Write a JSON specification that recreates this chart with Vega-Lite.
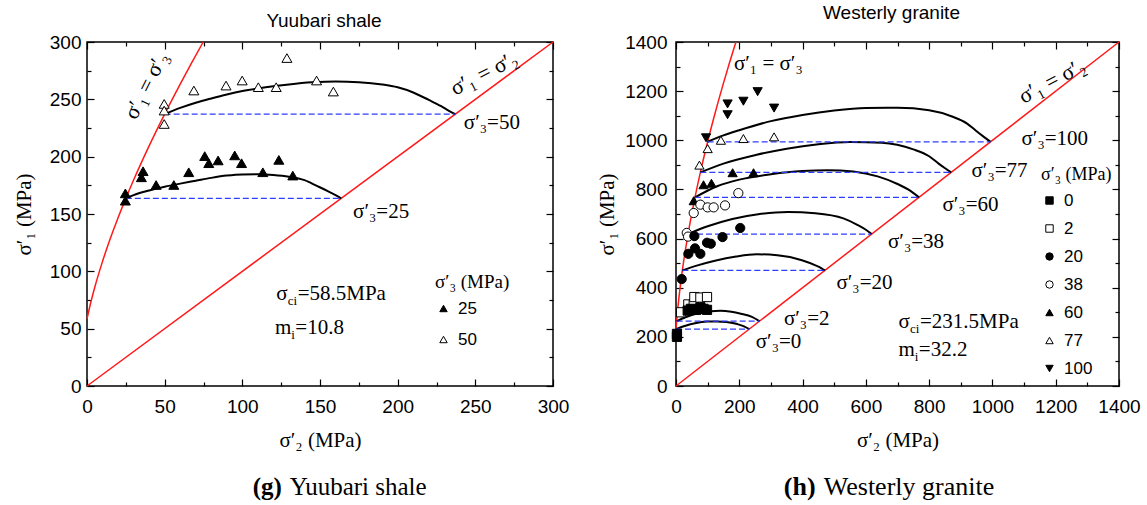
{
"$schema": "https://vega.github.io/schema/vega-lite/v6.json",
"background": "white",
"padding": {"left": 12, "top": 3, "right": 5, "bottom": 3},
"spacing": 25,
"config": {
  "view": {"stroke": "black", "strokeWidth": 1.5},
  "axis": {"grid": false, "domain": false, "labelOverlap": false, "labelFlush": false, "labelColor": "black", "titleColor": "black", "tickColor": "black", "format": "d"},
  "title": {"color": "black", "font": "Liberation Sans", "fontSize": 19, "fontWeight": "normal"}
},
"resolve": {"scale": {"shape": "independent", "fill": "independent", "stroke": "independent"}},
"datasets": {
  "diag_left": [{"x": 0, "y": 0}, {"x": 300, "y": 300}],
  "hb_left": [{"x":0,"y":58.5},{"x":2,"y":70.45},{"x":5,"y":86.12},{"x":10,"y":108.69},{"x":15,"y":128.57},{"x":20,"y":146.72},{"x":25,"y":163.63},{"x":30,"y":179.59},{"x":40,"y":209.39},{"x":50,"y":237.11},{"x":60,"y":263.3},{"x":67,"y":280.9},{"x":74.8,"y":300}],
  "curves_left": [
    {"c":"25","x":25,"y":163.6},{"c":"25","x":30,"y":166.5},{"c":"25","x":40,"y":170.5},{"c":"25","x":50,"y":173.8},{"c":"25","x":60,"y":176.5},{"c":"25","x":70,"y":179},{"c":"25","x":80,"y":181.5},{"c":"25","x":90,"y":183.5},{"c":"25","x":100,"y":184.5},{"c":"25","x":110,"y":184.6},{"c":"25","x":120,"y":184},{"c":"25","x":130,"y":182.5},{"c":"25","x":140,"y":179.5},{"c":"25","x":148,"y":174.5},{"c":"25","x":155,"y":170},{"c":"25","x":160,"y":166.5},{"c":"25","x":163.6,"y":163.6},
    {"c":"50","x":50,"y":237.1},{"c":"50","x":60,"y":242.5},{"c":"50","x":70,"y":247},{"c":"50","x":80,"y":250.8},{"c":"50","x":90,"y":254.3},{"c":"50","x":100,"y":257.3},{"c":"50","x":115,"y":260.5},{"c":"50","x":130,"y":263},{"c":"50","x":145,"y":264.8},{"c":"50","x":160,"y":265.6},{"c":"50","x":175,"y":265},{"c":"50","x":190,"y":263},{"c":"50","x":200,"y":260.5},{"c":"50","x":210,"y":256},{"c":"50","x":220,"y":249.5},{"c":"50","x":228,"y":244},{"c":"50","x":233,"y":240},{"c":"50","x":237.1,"y":237.1}
  ],
  "dash_left": [{"x1":25,"x2":163.6,"y":163.6},{"x1":50,"x2":237.1,"y":237.1}],
  "pts_left": [
    {"s3":"25","x":24.7,"y":168},{"s3":"25","x":24.7,"y":161.6},{"s3":"25","x":36.1,"y":187.3},{"s3":"25","x":35,"y":182},{"s3":"25","x":44.5,"y":175.3},{"s3":"25","x":55.9,"y":175.3},{"s3":"25","x":65.5,"y":186.4},{"s3":"25","x":75.8,"y":200.5},{"s3":"25","x":78.4,"y":194.3},{"s3":"25","x":84.4,"y":196.7},{"s3":"25","x":95.1,"y":201.1},{"s3":"25","x":99.5,"y":194.3},{"s3":"25","x":113.2,"y":186.4},{"s3":"25","x":123.5,"y":197.2},{"s3":"25","x":132.5,"y":183.5},
    {"s3":"50","x":49.7,"y":246},{"s3":"50","x":49.7,"y":240.2},{"s3":"50","x":49.7,"y":228.5},{"s3":"50","x":68.8,"y":257.7},{"s3":"50","x":89.5,"y":262},{"s3":"50","x":99.9,"y":266.4},{"s3":"50","x":110.3,"y":260.6},{"s3":"50","x":121.8,"y":260.6},{"s3":"50","x":128.7,"y":286},{"s3":"50","x":147.8,"y":266.4},{"s3":"50","x":158.6,"y":256.8}
  ],
  "texts_left": [{"x":171.3,"y":151.7,"t":"σ′₃=25"},{"x":242.6,"y":229,"t":"σ′₃=50"},{"x":121.8,"y":80.3,"t":"σ"},{"x":135.6,"y":80.3,"t":"=58.5MPa"},{"x":121,"y":50.6,"t":"m"},{"x":134.1,"y":50.6,"t":"=10.8"}],
  "subs_left": [{"x":129.3,"y":80.3,"t":"ci"},{"x":131.5,"y":50.6,"t":"i"}],
  "rot1_left": [{"x":38,"y":262,"t":"σ′₁ = σ′₃"}],
  "rot2_left": [{"x":255.6,"y":272.8,"t":"σ′₁ = σ′₂"}],
  "capb_left": [{"x":125.4,"y":0,"t":"(g)"}],
  "capn_left": [{"x":130.6,"y":0,"t":"Yuubari shale"}],
  "diag_right": [{"x": 0, "y": 0}, {"x": 1400, "y": 1400}],
  "hb_right": [{"x":0,"y":231.5},{"x":2,"y":263.73},{"x":5,"y":306.44},{"x":10,"y":367.96},{"x":15,"y":421.7},{"x":20,"y":470.2},{"x":30,"y":556.5},{"x":38,"y":618.4},{"x":50,"y":702.9},{"x":60,"y":767.7},{"x":77,"y":869.2},{"x":100,"y":993.9},{"x":120,"y":1093.7},{"x":150,"y":1232.5},{"x":170,"y":1319.3},{"x":189.4,"y":1400}],
  "curves_right": [
    {"c":"0","x":0,"y":231.5},{"c":"0","x":30,"y":245},{"c":"0","x":60,"y":255},{"c":"0","x":100,"y":262},{"c":"0","x":130,"y":263},{"c":"0","x":160,"y":260},{"c":"0","x":194,"y":252},{"c":"0","x":215,"y":243},{"c":"0","x":231.5,"y":231.5},
    {"c":"2","x":2,"y":263.7},{"c":"2","x":30,"y":280},{"c":"2","x":70,"y":296},{"c":"2","x":110,"y":304},{"c":"2","x":140,"y":306},{"c":"2","x":175,"y":302},{"c":"2","x":205,"y":294},{"c":"2","x":240,"y":281},{"c":"2","x":263.7,"y":263.7},
    {"c":"20","x":20,"y":470.2},{"c":"20","x":60,"y":488},{"c":"20","x":123,"y":510},{"c":"20","x":190,"y":527},{"c":"20","x":255,"y":536},{"c":"20","x":320,"y":532},{"c":"20","x":398,"y":512},{"c":"20","x":441,"y":491},{"c":"20","x":460,"y":479},{"c":"20","x":470.2,"y":470.2},
    {"c":"38","x":38,"y":618.4},{"c":"38","x":100,"y":650},{"c":"38","x":178,"y":680},{"c":"38","x":260,"y":699},{"c":"38","x":354,"y":708},{"c":"38","x":440,"y":703},{"c":"38","x":529,"y":682},{"c":"38","x":573,"y":656},{"c":"38","x":600,"y":636},{"c":"38","x":618.4,"y":618.4},
    {"c":"60","x":60,"y":767.7},{"c":"60","x":130,"y":813},{"c":"60","x":200,"y":840},{"c":"60","x":300,"y":862},{"c":"60","x":400,"y":875},{"c":"60","x":480,"y":878},{"c":"60","x":560,"y":873},{"c":"60","x":640,"y":852},{"c":"60","x":700,"y":822},{"c":"60","x":740,"y":795},{"c":"60","x":767.7,"y":767.7},
    {"c":"77","x":77,"y":869.2},{"c":"77","x":150,"y":905},{"c":"77","x":255,"y":941},{"c":"77","x":350,"y":966},{"c":"77","x":450,"y":984},{"c":"77","x":550,"y":993},{"c":"77","x":650,"y":990},{"c":"77","x":750,"y":963},{"c":"77","x":800,"y":935},{"c":"77","x":830,"y":905},{"c":"77","x":855,"y":882},{"c":"77","x":869.2,"y":869.2},
    {"c":"100","x":100,"y":994},{"c":"100","x":150,"y":1020},{"c":"100","x":200,"y":1041},{"c":"100","x":300,"y":1078},{"c":"100","x":400,"y":1103},{"c":"100","x":500,"y":1121},{"c":"100","x":600,"y":1131},{"c":"100","x":700,"y":1132},{"c":"100","x":800,"y":1122},{"c":"100","x":870,"y":1098},{"c":"100","x":920,"y":1068},{"c":"100","x":947,"y":1040},{"c":"100","x":975,"y":1012},{"c":"100","x":993.9,"y":993.9}
  ],
  "dash_right": [{"x1":0,"x2":231.5,"y":231.5},{"x1":2,"x2":263.7,"y":263.7},{"x1":20,"x2":470.2,"y":470.2},{"x1":38,"x2":618.4,"y":618.4},{"x1":60,"x2":767.7,"y":767.7},{"x1":77,"x2":869.2,"y":869.2},{"x1":100,"x2":993.9,"y":993.9}],
  "pts_right": [
    {"s3":"100","x":95,"y":1010},{"s3":"100","x":163,"y":1148},{"s3":"100","x":163,"y":1104},{"s3":"100","x":213,"y":1159},{"s3":"100","x":258,"y":1198},{"s3":"100","x":310,"y":1131},
    {"s3":"77","x":74,"y":899},{"s3":"77","x":100,"y":966},{"s3":"77","x":142,"y":1000},{"s3":"77","x":213,"y":1007},{"s3":"77","x":310,"y":1014},
    {"s3":"60","x":56,"y":754},{"s3":"60","x":87,"y":819},{"s3":"60","x":112,"y":825},{"s3":"60","x":179,"y":868},{"s3":"60","x":245,"y":868},
    {"s3":"38","x":197,"y":785},{"s3":"38","x":56,"y":704},{"s3":"38","x":77,"y":738},{"s3":"38","x":100,"y":727},{"s3":"38","x":119,"y":727},{"s3":"38","x":155,"y":735},{"s3":"38","x":34,"y":623},{"s3":"38","x":38,"y":608},
    {"s3":"20","x":203,"y":643},{"s3":"20","x":147,"y":606},{"s3":"20","x":58,"y":610},{"s3":"20","x":98,"y":583},{"s3":"20","x":110,"y":579},{"s3":"20","x":39,"y":538},{"s3":"20","x":60,"y":560},{"s3":"20","x":77,"y":538},{"s3":"20","x":18,"y":435},
    {"s3":"2","x":16,"y":300},{"s3":"2","x":39,"y":332},{"s3":"2","x":56,"y":333},{"s3":"2","x":58,"y":362},{"s3":"2","x":77,"y":360},{"s3":"2","x":98,"y":362},
    {"s3":"0","x":37,"y":307},{"s3":"0","x":47,"y":314},{"s3":"0","x":52,"y":310},{"s3":"0","x":64,"y":310},{"s3":"0","x":77,"y":320},{"s3":"0","x":87,"y":314},{"s3":"0","x":98,"y":310},{"s3":"0","x":3,"y":200},{"s3":"0","x":3,"y":212}
  ],
  "texts_right": [{"x":183,"y":1309,"t":"σ′₁ = σ′₃"},{"x":1092,"y":1005,"t":"σ′₃=100"},{"x":934,"y":874,"t":"σ′₃=77"},{"x":842,"y":738,"t":"σ′₃=60"},{"x":670,"y":587,"t":"σ′₃=38"},{"x":507,"y":420,"t":"σ′₃=20"},{"x":341,"y":272,"t":"σ′₃=2"},{"x":252,"y":181,"t":"σ′₃=0"},{"x":703,"y":262,"t":"σ"},{"x":770.9,"y":262,"t":"=231.5MPa"},{"x":703,"y":148,"t":"m"},{"x":767.4,"y":148,"t":"=32.2"}],
  "subs_right": [{"x":739.6,"y":262,"t":"ci"},{"x":754.5,"y":148,"t":"i"}],
  "rot_right": [{"x":1188,"y":1242,"t":"σ′₁ = σ′₂"}],
  "capb_right": [{"x":441,"y":0,"t":"(h)"}],
  "capn_right": [{"x":467,"y":0,"t":"Westerly granite"}]
},
"hconcat": [
{
  "width": 466, "height": 344,
  "title": {"text": "Yuubari shale", "offset": 2, "dx": 4, "anchor": "middle"},
  "resolve": {"axis": {"x": "independent", "y": "independent"}},
  "layer": [
    {"data": {"name": "diag_left"}, "mark": {"type": "line", "color": "#ff1a1a", "strokeWidth": 1.5},
     "encoding": {
       "x": {"field": "x", "type": "quantitative", "scale": {"domain": [0, 300], "nice": false}, "axis": {"orient": "bottom", "values": [0,50,100,150,200,250,300], "ticks": false, "labelPadding": 11, "labelFont": "Liberation Sans", "labelFontSize": 19, "title": "σ′₂  (MPa)", "titleFont": "Liberation Serif", "titleFontSize": 21, "titleFontWeight": "normal", "titlePadding": 13}},
       "y": {"field": "y", "type": "quantitative", "scale": {"domain": [0, 300], "nice": false}, "axis": {"orient": "left", "values": [0,50,100,150,200,250,300], "ticks": false, "labelPadding": 6, "labelFont": "Liberation Sans", "labelFontSize": 19, "title": "σ′₁   (MPa)", "titleFont": "Liberation Serif", "titleFontSize": 21, "titleFontWeight": "normal", "titlePadding": 15}}
     }},
    {"data": {"name": "hb_left"}, "mark": {"type": "line", "color": "#ff1a1a", "strokeWidth": 1.5, "interpolate": "monotone"},
     "encoding": {
       "x": {"field": "x", "type": "quantitative", "scale": {"domain": [0, 300], "nice": false}, "axis": {"orient": "bottom", "values": [0,50,100,150,200,250,300], "labels": false, "ticks": true, "tickSize": -7, "tickWidth": 1.2, "title": null}},
       "y": {"field": "y", "type": "quantitative", "scale": {"domain": [0, 300], "nice": false}, "axis": {"orient": "left", "values": [0,50,100,150,200,250,300], "labels": false, "ticks": true, "tickSize": -7, "tickWidth": 1.2, "title": null}}
     }},
    {"data": {"name": "curves_left"}, "mark": {"type": "line", "color": "black", "strokeWidth": 2, "interpolate": "monotone"},
     "encoding": {
       "detail": {"field": "c"},
       "x": {"field": "x", "type": "quantitative", "scale": {"domain": [0, 300], "nice": false}, "axis": {"orient": "bottom", "values": [25,75,125,175,225,275], "labels": false, "ticks": true, "tickSize": -4, "tickWidth": 1.2, "title": null}},
       "y": {"field": "y", "type": "quantitative", "scale": {"domain": [0, 300], "nice": false}, "axis": {"orient": "left", "values": [25,75,125,175,225,275], "labels": false, "ticks": true, "tickSize": -4, "tickWidth": 1.2, "title": null}}
     }},
    {"data": {"name": "dash_left"}, "mark": {"type": "rule", "color": "#2f3dff", "strokeWidth": 1.3, "strokeDash": [6, 3]},
     "encoding": {
       "x": {"field": "x1", "type": "quantitative", "scale": {"domain": [0, 300], "nice": false}, "axis": {"orient": "top", "values": [0,50,100,150,200,250,300], "labels": false, "ticks": true, "tickSize": -7, "tickWidth": 1.2, "title": null}},
       "x2": {"field": "x2"},
       "y": {"field": "y", "type": "quantitative", "scale": {"domain": [0, 300], "nice": false}, "axis": {"orient": "right", "values": [0,50,100,150,200,250,300], "labels": false, "ticks": true, "tickSize": -7, "tickWidth": 1.2, "title": null}}
     }},
    {"data": {"name": "pts_left"}, "mark": {"type": "point", "filled": true, "size": 100, "strokeWidth": 1, "opacity": 1},
     "encoding": {
       "x": {"field": "x", "type": "quantitative", "scale": {"domain": [0, 300], "nice": false}, "axis": {"orient": "top", "values": [25,75,125,175,225,275], "labels": false, "ticks": true, "tickSize": -4, "tickWidth": 1.2, "title": null}},
       "y": {"field": "y", "type": "quantitative", "scale": {"domain": [0, 300], "nice": false}, "axis": {"orient": "right", "values": [25,75,125,175,225,275], "labels": false, "ticks": true, "tickSize": -4, "tickWidth": 1.2, "title": null}},
       "shape": {"field": "s3", "type": "nominal", "scale": {"domain": ["25", "50"], "range": ["triangle-up", "triangle-up"]},
         "legend": {"title": "σ′₃ (MPa)", "orient": "none", "legendX": 348, "legendY": 231, "padding": 0, "titleFont": "Liberation Serif", "titleFontSize": 19, "titleFontWeight": "normal", "titleColor": "black", "titlePadding": 8, "labelFont": "Liberation Sans", "labelFontSize": 17, "labelColor": "black", "labelOffset": 6, "symbolSize": 55, "symbolStrokeWidth": 1, "rowPadding": 13}},
       "fill": {"field": "s3", "type": "nominal", "scale": {"domain": ["25", "50"], "range": ["black", "white"]},
         "legend": {"title": "σ′₃ (MPa)", "orient": "none", "legendX": 348, "legendY": 231, "padding": 0, "titleFont": "Liberation Serif", "titleFontSize": 19, "titleFontWeight": "normal", "titleColor": "black", "titlePadding": 8, "labelFont": "Liberation Sans", "labelFontSize": 17, "labelColor": "black", "labelOffset": 6, "symbolSize": 55, "symbolStrokeWidth": 1, "rowPadding": 13}},
       "stroke": {"field": "s3", "type": "nominal", "scale": {"domain": ["25", "50"], "range": ["black", "black"]},
         "legend": {"title": "σ′₃ (MPa)", "orient": "none", "legendX": 348, "legendY": 231, "padding": 0, "titleFont": "Liberation Serif", "titleFontSize": 19, "titleFontWeight": "normal", "titleColor": "black", "titlePadding": 8, "labelFont": "Liberation Sans", "labelFontSize": 17, "labelColor": "black", "labelOffset": 6, "symbolSize": 55, "symbolStrokeWidth": 1, "rowPadding": 13}}
     }},
    {"data": {"name": "texts_left"}, "mark": {"type": "text", "align": "left", "baseline": "middle", "font": "Liberation Serif", "fontSize": 21, "color": "black"},
     "encoding": {"x": {"field": "x", "type": "quantitative", "axis": null}, "y": {"field": "y", "type": "quantitative", "axis": null}, "text": {"field": "t"}}},
    {"data": {"name": "subs_left"}, "mark": {"type": "text", "align": "left", "baseline": "middle", "font": "Liberation Serif", "fontSize": 13, "dy": 7, "color": "black"},
     "encoding": {"x": {"field": "x", "type": "quantitative", "axis": null}, "y": {"field": "y", "type": "quantitative", "axis": null}, "text": {"field": "t"}}},
    {"data": {"name": "rot1_left"}, "mark": {"type": "text", "align": "center", "baseline": "middle", "font": "Liberation Serif", "fontSize": 22, "angle": -63, "color": "black"},
     "encoding": {"x": {"field": "x", "type": "quantitative", "axis": null}, "y": {"field": "y", "type": "quantitative", "axis": null}, "text": {"field": "t"}}},
    {"data": {"name": "rot2_left"}, "mark": {"type": "text", "align": "center", "baseline": "middle", "font": "Liberation Serif", "fontSize": 22, "angle": -27, "color": "black"},
     "encoding": {"x": {"field": "x", "type": "quantitative", "axis": null}, "y": {"field": "y", "type": "quantitative", "axis": null}, "text": {"field": "t"}}},
    {"data": {"name": "capb_left"}, "mark": {"type": "text", "align": "right", "baseline": "middle", "font": "Liberation Serif", "fontSize": 25, "fontWeight": "bold", "dy": 101, "color": "black"},
     "encoding": {"x": {"field": "x", "type": "quantitative", "axis": null}, "y": {"field": "y", "type": "quantitative", "axis": null}, "text": {"field": "t"}}},
    {"data": {"name": "capn_left"}, "mark": {"type": "text", "align": "left", "baseline": "middle", "font": "Liberation Serif", "fontSize": 25, "dy": 101, "color": "black"},
     "encoding": {"x": {"field": "x", "type": "quantitative", "axis": null}, "y": {"field": "y", "type": "quantitative", "axis": null}, "text": {"field": "t"}}}
  ]
},
{
  "width": 443, "height": 344,
  "title": {"text": "Westerly granite", "offset": 10, "dx": -6, "anchor": "middle"},
  "resolve": {"axis": {"x": "independent", "y": "independent"}},
  "layer": [
    {"data": {"name": "diag_right"}, "mark": {"type": "line", "color": "#ff1a1a", "strokeWidth": 1.5},
     "encoding": {
       "x": {"field": "x", "type": "quantitative", "scale": {"domain": [0, 1400], "nice": false}, "axis": {"orient": "bottom", "values": [0,200,400,600,800,1000,1200,1400], "ticks": false, "labelPadding": 11, "labelFont": "Liberation Sans", "labelFontSize": 19, "title": "σ′₂  (MPa)", "titleFont": "Liberation Serif", "titleFontSize": 21, "titleFontWeight": "normal", "titlePadding": 13}},
       "y": {"field": "y", "type": "quantitative", "scale": {"domain": [0, 1400], "nice": false}, "axis": {"orient": "left", "values": [0,200,400,600,800,1000,1200,1400], "ticks": false, "labelPadding": 9, "labelFont": "Liberation Sans", "labelFontSize": 19, "title": "σ′₁   (MPa)", "titleFont": "Liberation Serif", "titleFontSize": 21, "titleFontWeight": "normal", "titlePadding": 7}}
     }},
    {"data": {"name": "hb_right"}, "mark": {"type": "line", "color": "#ff1a1a", "strokeWidth": 1.5, "interpolate": "monotone"},
     "encoding": {
       "x": {"field": "x", "type": "quantitative", "scale": {"domain": [0, 1400], "nice": false}, "axis": {"orient": "bottom", "values": [0,200,400,600,800,1000,1200,1400], "labels": false, "ticks": true, "tickSize": -7, "tickWidth": 1.2, "title": null}},
       "y": {"field": "y", "type": "quantitative", "scale": {"domain": [0, 1400], "nice": false}, "axis": {"orient": "left", "values": [0,200,400,600,800,1000,1200,1400], "labels": false, "ticks": true, "tickSize": -7, "tickWidth": 1.2, "title": null}}
     }},
    {"data": {"name": "curves_right"}, "mark": {"type": "line", "color": "black", "strokeWidth": 2, "interpolate": "monotone"},
     "encoding": {
       "detail": {"field": "c"},
       "x": {"field": "x", "type": "quantitative", "scale": {"domain": [0, 1400], "nice": false}, "axis": {"orient": "bottom", "values": [100,300,500,700,900,1100,1300], "labels": false, "ticks": true, "tickSize": -4, "tickWidth": 1.2, "title": null}},
       "y": {"field": "y", "type": "quantitative", "scale": {"domain": [0, 1400], "nice": false}, "axis": {"orient": "left", "values": [100,300,500,700,900,1100,1300], "labels": false, "ticks": true, "tickSize": -4, "tickWidth": 1.2, "title": null}}
     }},
    {"data": {"name": "dash_right"}, "mark": {"type": "rule", "color": "#2f3dff", "strokeWidth": 1.3, "strokeDash": [6, 3]},
     "encoding": {
       "x": {"field": "x1", "type": "quantitative", "scale": {"domain": [0, 1400], "nice": false}, "axis": {"orient": "top", "values": [0,200,400,600,800,1000,1200,1400], "labels": false, "ticks": true, "tickSize": -7, "tickWidth": 1.2, "title": null}},
       "x2": {"field": "x2"},
       "y": {"field": "y", "type": "quantitative", "scale": {"domain": [0, 1400], "nice": false}, "axis": {"orient": "right", "values": [0,200,400,600,800,1000,1200,1400], "labels": false, "ticks": true, "tickSize": -7, "tickWidth": 1.2, "title": null}}
     }},
    {"data": {"name": "pts_right"}, "mark": {"type": "point", "filled": true, "size": 85, "strokeWidth": 1, "opacity": 1},
     "encoding": {
       "x": {"field": "x", "type": "quantitative", "scale": {"domain": [0, 1400], "nice": false}, "axis": {"orient": "top", "values": [100,300,500,700,900,1100,1300], "labels": false, "ticks": true, "tickSize": -4, "tickWidth": 1.2, "title": null}},
       "y": {"field": "y", "type": "quantitative", "scale": {"domain": [0, 1400], "nice": false}, "axis": {"orient": "right", "values": [100,300,500,700,900,1100,1300], "labels": false, "ticks": true, "tickSize": -4, "tickWidth": 1.2, "title": null}},
       "shape": {"field": "s3", "type": "nominal", "scale": {"domain": ["0","2","20","38","60","77","100"], "range": ["square","square","circle","circle","triangle-up","triangle-up","triangle-down"]},
         "legend": {"title": "σ′₃ (MPa)", "orient": "none", "legendX": 365, "legendY": 124, "padding": 0, "titleFont": "Liberation Serif", "titleFontSize": 18, "titleFontWeight": "normal", "titleColor": "black", "titlePadding": 8, "labelFont": "Liberation Sans", "labelFontSize": 17, "labelColor": "black", "labelOffset": 6, "symbolSize": 55, "symbolStrokeWidth": 1, "rowPadding": 10}},
       "fill": {"field": "s3", "type": "nominal", "scale": {"domain": ["0","2","20","38","60","77","100"], "range": ["black","white","black","white","black","white","black"]},
         "legend": {"title": "σ′₃ (MPa)", "orient": "none", "legendX": 365, "legendY": 124, "padding": 0, "titleFont": "Liberation Serif", "titleFontSize": 18, "titleFontWeight": "normal", "titleColor": "black", "titlePadding": 8, "labelFont": "Liberation Sans", "labelFontSize": 17, "labelColor": "black", "labelOffset": 6, "symbolSize": 55, "symbolStrokeWidth": 1, "rowPadding": 10}},
       "stroke": {"field": "s3", "type": "nominal", "scale": {"domain": ["0","2","20","38","60","77","100"], "range": ["black","black","black","black","black","black","black"]},
         "legend": {"title": "σ′₃ (MPa)", "orient": "none", "legendX": 365, "legendY": 124, "padding": 0, "titleFont": "Liberation Serif", "titleFontSize": 18, "titleFontWeight": "normal", "titleColor": "black", "titlePadding": 8, "labelFont": "Liberation Sans", "labelFontSize": 17, "labelColor": "black", "labelOffset": 6, "symbolSize": 55, "symbolStrokeWidth": 1, "rowPadding": 10}}
     }},
    {"data": {"name": "texts_right"}, "mark": {"type": "text", "align": "left", "baseline": "middle", "font": "Liberation Serif", "fontSize": 21, "color": "black"},
     "encoding": {"x": {"field": "x", "type": "quantitative", "axis": null}, "y": {"field": "y", "type": "quantitative", "axis": null}, "text": {"field": "t"}}},
    {"data": {"name": "subs_right"}, "mark": {"type": "text", "align": "left", "baseline": "middle", "font": "Liberation Serif", "fontSize": 13, "dy": 7, "color": "black"},
     "encoding": {"x": {"field": "x", "type": "quantitative", "axis": null}, "y": {"field": "y", "type": "quantitative", "axis": null}, "text": {"field": "t"}}},
    {"data": {"name": "rot_right"}, "mark": {"type": "text", "align": "center", "baseline": "middle", "font": "Liberation Serif", "fontSize": 22, "angle": -28, "color": "black"},
     "encoding": {"x": {"field": "x", "type": "quantitative", "axis": null}, "y": {"field": "y", "type": "quantitative", "axis": null}, "text": {"field": "t"}}},
    {"data": {"name": "capb_right"}, "mark": {"type": "text", "align": "right", "baseline": "middle", "font": "Liberation Serif", "fontSize": 26, "fontWeight": "bold", "dy": 101, "color": "black"},
     "encoding": {"x": {"field": "x", "type": "quantitative", "axis": null}, "y": {"field": "y", "type": "quantitative", "axis": null}, "text": {"field": "t"}}},
    {"data": {"name": "capn_right"}, "mark": {"type": "text", "align": "left", "baseline": "middle", "font": "Liberation Serif", "fontSize": 26, "dy": 101, "color": "black"},
     "encoding": {"x": {"field": "x", "type": "quantitative", "axis": null}, "y": {"field": "y", "type": "quantitative", "axis": null}, "text": {"field": "t"}}}
  ]
}
]
}
